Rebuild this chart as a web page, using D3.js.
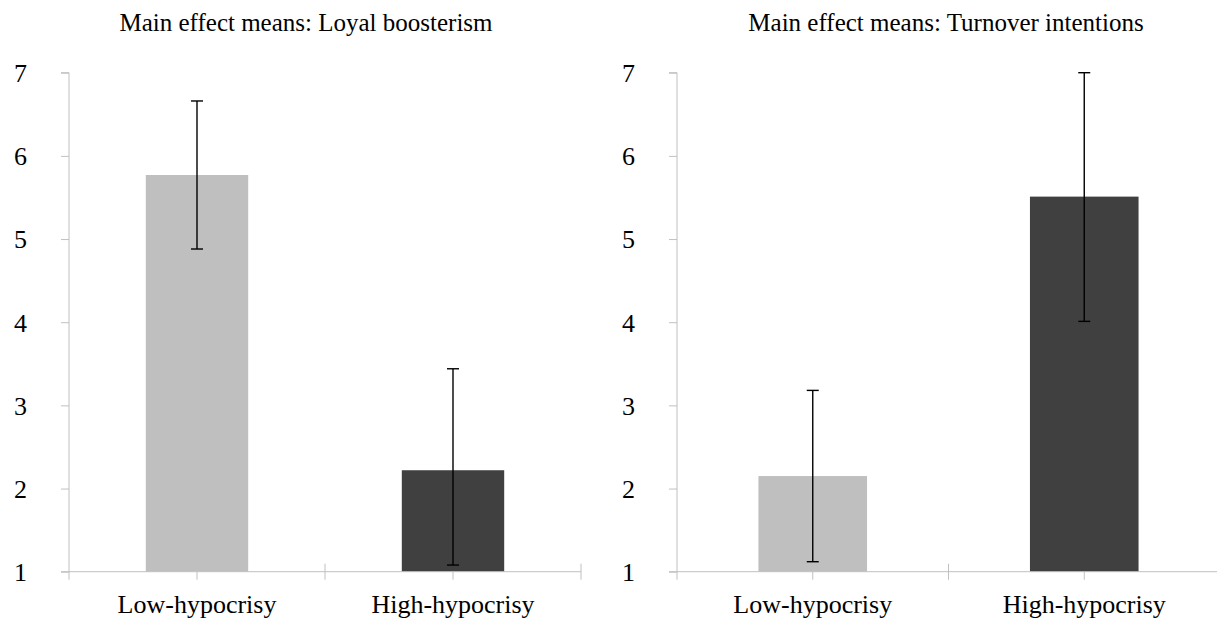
<!DOCTYPE html>
<html>
<head>
<meta charset="utf-8">
<script src="https://cdn.jsdelivr.net/npm/d3@7"></script>
<style>
  body { margin: 0; background: #fff; }
  text { font-family: "Liberation Serif", "Times New Roman", serif; fill: #000; }
</style>
</head>
<body>
<svg id="chart" width="1217" height="622"></svg>
<script>
// data
let categories = ["Low-hypocrisy", "High-hypocrisy"];
let yTicks = [1, 2, 3, 4, 5, 6, 7];

let boosterTitle = "Main effect means: Loyal boosterism";
let boosterMeans = [5.77, 2.22];
let boosterLow = [4.88, 1.08];
let boosterHigh = [6.66, 3.44];

let turnoverTitle = "Main effect means: Turnover intentions";
let turnoverMeans = [2.15, 5.51];
let turnoverLow = [1.12, 4.01];
let turnoverHigh = [3.18, 7.0];

let barColors = ["#bfbfbf", "#404040"];
let axisColor = "#c0c0c0";
let fontSize = 26;

let svg = d3.select("#chart");

// one panel = title, y axis, x axis, bars, error bars
function drawPanel(opts){
    let g = svg.append("g");
    let y = d3.scaleLinear().domain([1, 7]).range([571.7, 72.7]);
    let x = d3.scaleBand().domain(categories).range([opts.x0, opts.x1]).paddingInner(0.6).paddingOuter(0.3);
    let rows = categories.map((c, i) => ({cat: c, mean: opts.means[i], lo: opts.low[i], hi: opts.high[i], col: barColors[i]}));

    // title
    g.append("text")
        .attr("x", opts.titleX)
        .attr("y", 31)
        .attr("text-anchor", "middle")
        .style("font-size", (fontSize - 1) + "px")
        .text(opts.title);

    // y axis
    let yAxis = d3.axisLeft(y).tickValues(yTicks).tickSize(8).tickFormat(d3.format("d"));
    let ya = g.append("g").attr("transform", "translate(" + opts.x0 + ",0)").call(yAxis);
    ya.select(".domain").attr("stroke", axisColor).attr("d", "M-8," + y(7) + "H0V" + (y(1) + 8));
    ya.selectAll(".tick line").attr("stroke", axisColor);
    ya.selectAll(".tick text")
        .attr("x", -42)
        .attr("dy", "0.34em")
        .style("font-size", fontSize + "px")
        .style("font-family", "'Liberation Serif', serif")
        .attr("fill", "#000");

    // bars
    g.selectAll("rect.bar").data(rows).enter().append("rect")
        .attr("class", "bar")
        .attr("x", d => x(d.cat))
        .attr("width", x.bandwidth())
        .attr("y", d => y(d.mean))
        .attr("height", d => y(1) - y(d.mean))
        .attr("fill", d => d.col);

    // x axis (line drawn over the bars)
    let step = (opts.x1 - opts.x0) / categories.length;
    g.append("line")
        .attr("x1", opts.x0 - 8).attr("x2", opts.x1)
        .attr("y1", y(1)).attr("y2", y(1))
        .attr("stroke", axisColor);
    // ticks at category boundaries cross the axis, ticks at centres hang below
    for(let i = 1; i <= categories.length; i++){
        g.append("line")
            .attr("x1", opts.x0 + i * step).attr("x2", opts.x0 + i * step)
            .attr("y1", y(1) - 8).attr("y2", y(1) + 8)
            .attr("stroke", axisColor);
    }
    g.selectAll("line.ctick").data(rows).enter().append("line")
        .attr("class", "ctick")
        .attr("x1", d => x(d.cat) + x.bandwidth() / 2)
        .attr("x2", d => x(d.cat) + x.bandwidth() / 2)
        .attr("y1", y(1)).attr("y2", y(1) + 8)
        .attr("stroke", axisColor);

    // category labels
    g.selectAll("text.cat").data(rows).enter().append("text")
        .attr("class", "cat")
        .attr("x", d => x(d.cat) + x.bandwidth() / 2)
        .attr("y", 613)
        .attr("text-anchor", "middle")
        .style("font-size", fontSize + "px")
        .text(d => d.cat);

    // error bars
    let eb = g.selectAll("g.err").data(rows).enter().append("g").attr("class", "err")
        .attr("transform", d => "translate(" + (x(d.cat) + x.bandwidth() / 2) + ",0)");
    eb.append("line")
        .attr("y1", d => y(d.lo)).attr("y2", d => y(d.hi))
        .attr("stroke", "#000").attr("stroke-width", 1.4);
    eb.append("line")
        .attr("x1", -6).attr("x2", 6)
        .attr("y1", d => y(d.hi)).attr("y2", d => y(d.hi))
        .attr("stroke", "#000").attr("stroke-width", 1.4);
    eb.append("line")
        .attr("x1", -6).attr("x2", 6)
        .attr("y1", d => y(d.lo)).attr("y2", d => y(d.lo))
        .attr("stroke", "#000").attr("stroke-width", 1.4);
}

drawPanel({x0: 69, x1: 581, titleX: 306, title: boosterTitle, means: boosterMeans, low: boosterLow, high: boosterHigh});
drawPanel({x0: 677, x1: 1220, titleX: 946, title: turnoverTitle, means: turnoverMeans, low: turnoverLow, high: turnoverHigh});
</script>
</body>
</html>
